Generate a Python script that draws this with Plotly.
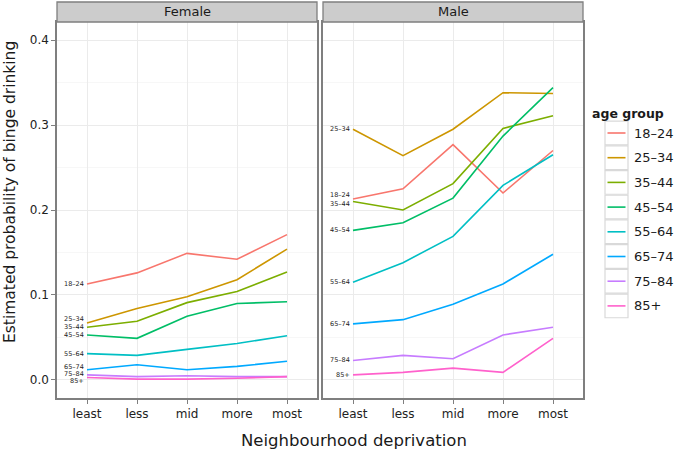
import plotly.graph_objects as go

deprivation = ["least", "less", "mid", "more", "most"]
age_groups = ["18–24", "25–34", "35–44", "45–54", "55–64", "65–74", "75–84", "85+"]
panels = ["Female", "Male"]

female = {
    "18–24": [0.113, 0.126, 0.149, 0.142, 0.171],
    "25–34": [0.067, 0.084, 0.098, 0.118, 0.154],
    "35–44": [0.062, 0.069, 0.091, 0.104, 0.127],
    "45–54": [0.053, 0.049, 0.075, 0.090, 0.092],
    "55–64": [0.031, 0.029, 0.036, 0.043, 0.052],
    "65–74": [0.012, 0.018, 0.012, 0.016, 0.022],
    "75–84": [0.006, 0.004, 0.005, 0.004, 0.004],
    "85+":   [0.003, 0.001, 0.001, 0.002, 0.004],
}
male = {
    "18–24": [0.213, 0.225, 0.277, 0.220, 0.270],
    "25–34": [0.295, 0.264, 0.295, 0.338, 0.337],
    "35–44": [0.210, 0.200, 0.231, 0.296, 0.311],
    "45–54": [0.176, 0.185, 0.214, 0.287, 0.344],
    "55–64": [0.115, 0.138, 0.169, 0.229, 0.265],
    "65–74": [0.066, 0.071, 0.089, 0.113, 0.148],
    "75–84": [0.023, 0.029, 0.025, 0.053, 0.062],
    "85+":   [0.006, 0.009, 0.014, 0.009, 0.049],
}
colors = ["#F8766D", "#CD9600", "#7CAE00", "#00BE67", "#00BFC4", "#00A9FF", "#C77CFF", "#FF61CC"]
# small vertical nudges (px) applied to direct labels so they don't overlap
label_nudge = {
    "Female": {"25–34": 4, "65–74": 3, "75–84": 1, "85+": -4},
    "Male": {"18–24": 4, "35–44": -2},
}

W, H = 675, 450
SL, SR, ST, SB = 57, 583, 22, 398
L, R, T, B = SL, SR, ST, SB
PW, PH = R - L, B - T
FONT = "DejaVu Sans"

fig = go.Figure()
data_by_panel = {"Female": female, "Male": male}
annotations = []
shapes = []
for pi, panel in enumerate(panels):
    xa = "x" if pi == 0 else "x2"
    ya = "y" if pi == 0 else "y2"
    d = data_by_panel[panel]
    for ag, col in zip(age_groups, colors):
        fig.add_trace(go.Scatter(
            x=deprivation, y=d[ag], mode="lines", name=ag,
            line=dict(color=col, width=1.6), xaxis=xa, yaxis=ya,
            showlegend=False, hoverinfo="skip"))
        annotations.append(dict(
            x=deprivation[0], y=d[ag][0], xref=xa, yref=ya, text=ag,
            showarrow=False, xanchor="right", yanchor="middle", xshift=-1,
            yshift=label_nudge[panel].get(ag, 0),
            font=dict(family=FONT, size=6.5, color="#222222")))
    # strip
    shapes.append(dict(type="rect", xref=xa + " domain", yref="paper",
                       x0=0, x1=1, y0=1, y1=1 + 20 / PH,
                       fillcolor="#CCCCCC", line=dict(color="#7F7F7F", width=1.3),
                       layer="above"))
    annotations.append(dict(x=0.5, y=1 + 10 / PH, xref=xa + " domain", yref="paper",
                            text=panel, showarrow=False, xanchor="center", yanchor="middle",
                            font=dict(family=FONT, size=13, color="#1a1a1a")))

axis_common = dict(
    showline=True, mirror=True, linecolor="#7F7F7F", linewidth=1.5,
    ticks="outside", ticklen=4, tickcolor="#7F7F7F", tickwidth=1,
    gridcolor="#EBEBEB", gridwidth=1, zeroline=False,
    tickfont=dict(family=FONT, size=12, color="#222222"),
)
xcommon = dict(axis_common, type="category", categoryorder="array",
               categoryarray=deprivation, range=[-0.6, 4.6])
ycommon = dict(axis_common, range=[-0.0212, 0.4212], tickvals=[0, 0.1, 0.2, 0.3, 0.4],
               tickformat=".1f",
               minor=dict(tickvals=[0.05, 0.15, 0.25, 0.35], showgrid=True,
                          gridcolor="#F7F7F7", ticks=""))

sep = 6 / PW
fig.update_layout(
    width=W, height=H,
    margin=dict(l=L, r=W - R, t=T, b=H - B, pad=0, autoexpand=False),
    paper_bgcolor="white", plot_bgcolor="white",
    font=dict(family=FONT, color="#222222"),
    xaxis=dict(xcommon, domain=[0, 0.5 - sep / 2], anchor="y"),
    xaxis2=dict(xcommon, domain=[0.5 + sep / 2, 1], anchor="y2"),
    yaxis=dict(ycommon, anchor="x"),
    yaxis2=dict(ycommon, anchor="x2", showticklabels=False, ticks=""),
    showlegend=False,
)


def px(xp):
    """screen x pixel -> paper coordinate"""
    return (xp - SL) / PW


def py(yp):
    """screen y pixel -> paper coordinate"""
    return (SB - yp) / PH


# axis titles
annotations.append(dict(x=px(354), y=py(440), xref="paper", yref="paper",
                        text="Neighbourhood deprivation", showarrow=False,
                        xanchor="center", yanchor="middle",
                        font=dict(family=FONT, size=16.5, color="#1a1a1a")))
annotations.append(dict(x=px(10), y=py(192), xref="paper", yref="paper",
                        text="Estimated probability of binge drinking", showarrow=False,
                        textangle=-90, xanchor="center", yanchor="middle",
                        font=dict(family=FONT, size=15.5, color="#1a1a1a")))

# manual legend
annotations.append(dict(x=px(590), y=py(113), xref="paper", yref="paper",
                        text="<b>age group</b>", showarrow=False,
                        xanchor="left", yanchor="middle",
                        font=dict(family=FONT, size=12.5, color="#1a1a1a")))
step = 24.7
y0 = 133
for i, (ag, col) in enumerate(zip(age_groups, colors)):
    yc = y0 + i * step
    shapes.append(dict(type="rect", xref="paper", yref="paper",
                       x0=px(605), x1=px(628), y0=py(yc - step / 2 + 0.5), y1=py(yc + step / 2 - 0.5),
                       fillcolor="white", line=dict(color="#D9D9D9", width=1.2)))
    shapes.append(dict(type="line", xref="paper", yref="paper",
                       x0=px(607.5), x1=px(625.5), y0=py(yc), y1=py(yc),
                       line=dict(color=col, width=1.6)))
    annotations.append(dict(x=px(632), y=py(yc), xref="paper", yref="paper",
                            text=ag, showarrow=False, xanchor="left", yanchor="middle",
                            font=dict(family=FONT, size=13, color="#1a1a1a")))

fig.update_layout(annotations=annotations, shapes=shapes)
fig.write_html("out.html",
               config={"displayModeBar": False},
               post_script="document.body.style.margin='0px';document.body.style.overflow='hidden';")
